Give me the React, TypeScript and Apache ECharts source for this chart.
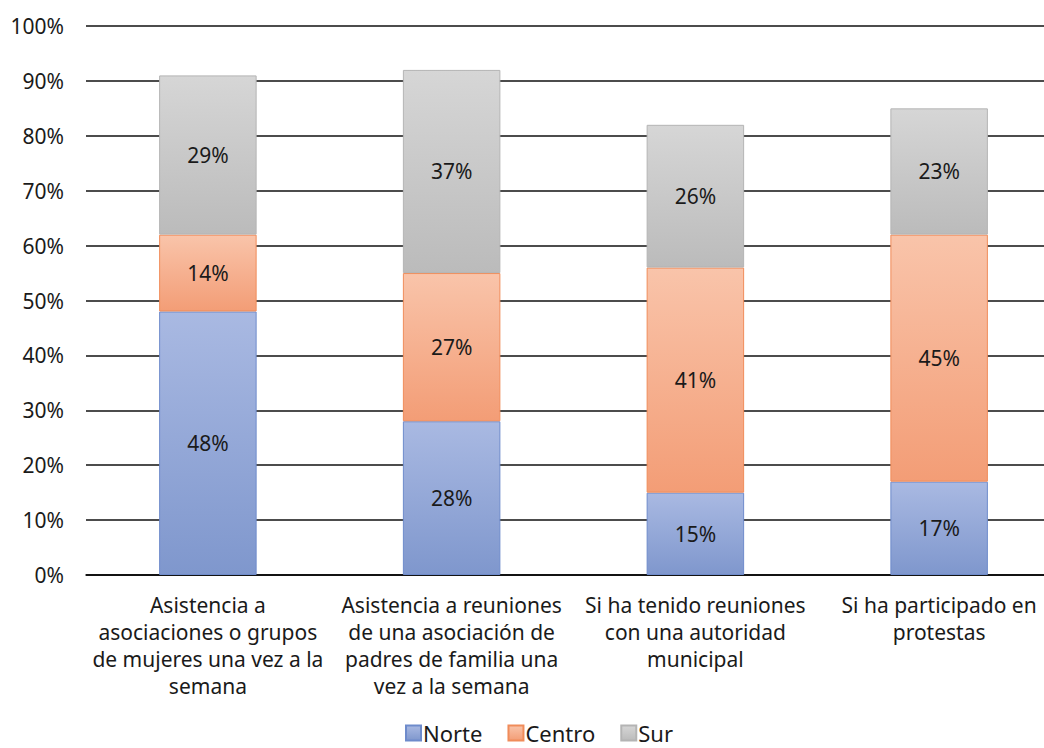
import React, { useEffect, useRef } from "react";
import * as echarts from "echarts";

const categories = [
  "Asistencia a\nasociaciones o grupos\nde mujeres una vez a la\nsemana",
  "Asistencia a reuniones\nde una asociación de\npadres de familia una\nvez a la semana",
  "Si ha tenido reuniones\ncon una autoridad\nmunicipal",
  "Si ha participado en\nprotestas",
];
const norte = [48, 28, 15, 17];
const centro = [14, 27, 41, 45];
const sur = [29, 37, 26, 23];
const seriesNames = ["Norte", "Centro", "Sur"];

const FONT = "Noto Sans";

function grad(top: string, bottom: string) {
  return new echarts.graphic.LinearGradient(0, 0, 0, 1, [
    { offset: 0, color: top },
    { offset: 1, color: bottom },
  ]);
}

export default function App() {
  const ref = useRef<HTMLDivElement>(null);
  useEffect(() => {
    if (!ref.current) return;
    const chart = echarts.init(ref.current, undefined, { renderer: "svg" });
    const label = {
      show: true,
      position: "inside",
      formatter: "{c}%",
      color: "#1a1a1a",
      fontFamily: FONT,
      fontSize: 21,
    };
    const mk = (name: string, data: number[], fill: any, border: string) => ({
      name,
      type: "bar",
      stack: "total",
      data,
      barCategoryGap: "60%",
      label,
      itemStyle: { color: fill, borderColor: border, borderWidth: 1 },
    });
    chart.setOption({
      animation: false,
      grid: { left: 86, width: 975, top: 26, bottom: 173, containLabel: false },
      legend: {
        bottom: 4,
        left: 400,
        padding: [0, 5, 0, 5],
        itemWidth: 15,
        itemHeight: 15,
        itemGap: 25,
        icon: "rect",
        textStyle: {
          fontFamily: FONT,
          fontSize: 22,
          lineHeight: 22,
          color: "#1a1a1a",
          padding: [0, 0, 0, -3],
        },
        data: seriesNames,
      },
      xAxis: {
        type: "category",
        data: categories,
        axisLine: { lineStyle: { color: "#000", width: 1.5 } },
        axisTick: { show: false },
        axisLabel: {
          interval: 0,
          fontFamily: FONT,
          fontSize: 21,
          lineHeight: 27,
          color: "#1a1a1a",
          margin: 16,
        },
      },
      yAxis: {
        type: "value",
        min: 0,
        max: 100,
        interval: 10,
        axisLabel: {
          formatter: "{value}%",
          fontFamily: FONT,
          fontSize: 21,
          color: "#1a1a1a",
          margin: 22,
        },
        axisLine: { show: false },
        axisTick: { show: false },
        splitLine: { lineStyle: { color: "#111", width: 1.5 } },
      },
      series: [
        mk(seriesNames[0], norte, grad("#A9B9E2", "#7F97CD"), "#6E8BCB"),
        mk(seriesNames[1], centro, grad("#F9C4AA", "#F39D76"), "#F08C5A"),
        mk(seriesNames[2], sur, grad("#D6D6D6", "#BBBBBB"), "#B4B4B4"),
      ],
    });
    return () => chart.dispose();
  }, []);
  return (
    <div style={{ position: "fixed", left: 0, top: 0, width: 1044, height: 748, overflow: "hidden", background: "#fff" }}>
      <div ref={ref} style={{ width: 1070, height: 748 }} />
    </div>
  );
}
